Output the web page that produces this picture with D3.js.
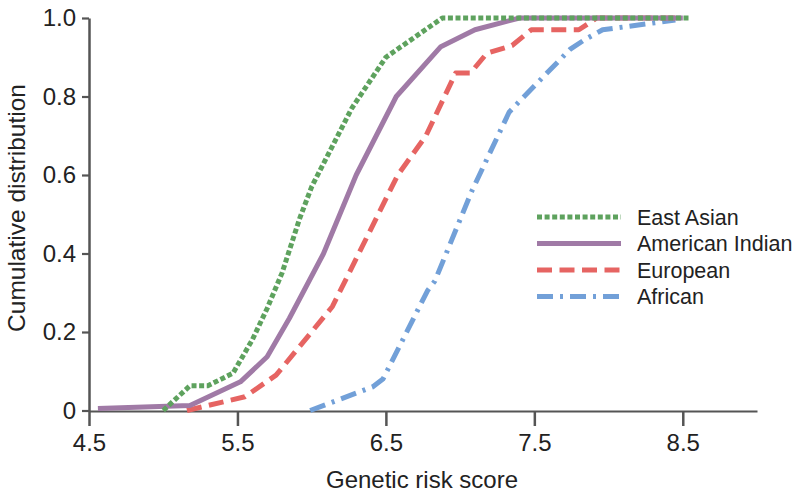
<!DOCTYPE html>
<html>
<head>
<meta charset="utf-8">
<script src="https://cdn.jsdelivr.net/npm/d3@7"></script>
<style>
  html, body { margin: 0; padding: 0; background: #fff; }
  svg { display: block; font-family: "Liberation Sans", Arial, sans-serif; }
</style>
</head>
<body>
<svg id="chart" width="800" height="495"></svg>
<script>
// ---- Data ----
const seriesNames = ["East Asian", "American Indian", "European", "African"];

const eastAsianX = [5.0, 5.18, 5.3, 5.47, 5.6, 5.7, 5.8, 5.92, 6.0, 6.27, 6.5, 6.88, 8.55];
const eastAsianY = [0, 0.063, 0.063, 0.095, 0.18, 0.26, 0.35, 0.49, 0.57, 0.77, 0.9, 1.0, 1.0];

const americanIndianX = [4.56, 5.18, 5.52, 5.7, 5.85, 6.08, 6.3, 6.57, 6.87, 7.1, 7.4, 8.5];
const americanIndianY = [0.005, 0.013, 0.073, 0.137, 0.235, 0.4, 0.6, 0.8, 0.927, 0.97, 1.0, 1.0];

const europeanX = [5.16, 5.55, 5.76, 6.14, 6.58, 6.77, 6.97, 7.07, 7.18, 7.35, 7.48, 7.8, 7.92, 8.5];
const europeanY = [0, 0.035, 0.09, 0.265, 0.6, 0.7, 0.86, 0.86, 0.91, 0.93, 0.97, 0.97, 1.0, 1.0];

const africanX = [5.99, 6.41, 6.48, 6.78, 6.83, 7.08, 7.33, 7.38, 7.74, 7.84, 7.96, 8.12, 8.45];
const africanY = [0, 0.06, 0.08, 0.305, 0.33, 0.56, 0.76, 0.78, 0.92, 0.945, 0.97, 0.978, 0.995];

const xTicks = [4.5, 5.5, 6.5, 7.5, 8.5];
const yTicks = [0, 0.2, 0.4, 0.6, 0.8, 1.0];
const yTickLabels = ["0", "0.2", "0.4", "0.6", "0.8", "1.0"];

// ---- Styles ----
const colors = ["#5ea25e", "#a07aa6", "#e66462", "#72a0d8"];
const dashes = ["5,2.6", null, "15,7.5", "16,7,3,7"];

const series = [
  { name: seriesNames[0], xs: eastAsianX, ys: eastAsianY, color: colors[0], dash: dashes[0] },
  { name: seriesNames[1], xs: americanIndianX, ys: americanIndianY, color: colors[1], dash: dashes[1] },
  { name: seriesNames[2], xs: europeanX, ys: europeanY, color: colors[2], dash: dashes[2] },
  { name: seriesNames[3], xs: africanX, ys: africanY, color: colors[3], dash: dashes[3] }
];

const svg = d3.select("#chart");
const x = d3.scaleLinear().domain([4.5, 9.0]).range([89, 757]);
const y = d3.scaleLinear().domain([0, 1]).range([410.5, 18]);

const axisColor = "#555";
const textColor = "#222";

// X axis
const xAxis = svg.append("g")
  .attr("transform", "translate(0,411)")
  .call(d3.axisBottom(x).tickValues(xTicks).tickFormat(d3.format(".1f")).tickSize(15).tickSizeOuter(0).tickPadding(8));
xAxis.select(".domain").attr("stroke", axisColor).attr("stroke-width", 2.2);
xAxis.selectAll(".tick line").attr("stroke", axisColor).attr("stroke-width", 2.5);
xAxis.selectAll(".tick text").attr("fill", textColor).attr("font-size", 24)
  .attr("font-family", "Liberation Sans, Arial, sans-serif");

// Y axis
const yAxis = svg.append("g")
  .attr("transform", "translate(89,0)")
  .call(d3.axisLeft(y).tickValues(yTicks).tickFormat((d, i) => yTickLabels[i]).tickSize(7).tickSizeOuter(0).tickPadding(6));
yAxis.select(".domain").attr("stroke", axisColor).attr("stroke-width", 2.5);
yAxis.selectAll(".tick line").attr("stroke", axisColor).attr("stroke-width", 2.2);
yAxis.selectAll(".tick text").attr("fill", textColor).attr("font-size", 24)
  .attr("font-family", "Liberation Sans, Arial, sans-serif");

// Axis titles
svg.append("text")
  .attr("x", 422).attr("y", 488)
  .attr("text-anchor", "middle")
  .attr("font-size", 24).attr("fill", textColor)
  .text("Genetic risk score");

svg.append("text")
  .attr("transform", "translate(25,208) rotate(-90)")
  .attr("text-anchor", "middle")
  .attr("font-size", 24.5).attr("fill", textColor)
  .text("Cumulative distribution");

// Lines
const line = d3.line().x(d => x(d[0])).y(d => y(d[1]));
const drawOrder = [3, 2, 1, 0];
const linesG = svg.append("g");
drawOrder.forEach(i => {
  const s = series[i];
  const pts = s.xs.map((v, j) => [v, s.ys[j]]);
  linesG.append("path")
    .datum(pts)
    .attr("d", line)
    .attr("fill", "none")
    .attr("stroke", s.color)
    .attr("stroke-width", 5)
    .attr("stroke-linejoin", "round")
    .attr("stroke-dasharray", s.dash);
});

// Legend
const legend = svg.append("g");
const legendRowsY = [217, 243.5, 270, 296.5];
series.forEach((s, i) => {
  const g = legend.append("g").attr("transform", `translate(0,${legendRowsY[i]})`);
  g.append("line")
    .attr("x1", 537).attr("x2", 621).attr("y1", 0).attr("y2", 0)
    .attr("stroke", s.color).attr("stroke-width", 5)
    .attr("stroke-dasharray", s.dash);
  g.append("text")
    .attr("x", 637).attr("y", 0).attr("dy", "0.35em")
    .attr("font-size", 21.5).attr("fill", textColor)
    .text(s.name);
});
</script>
</body>
</html>
